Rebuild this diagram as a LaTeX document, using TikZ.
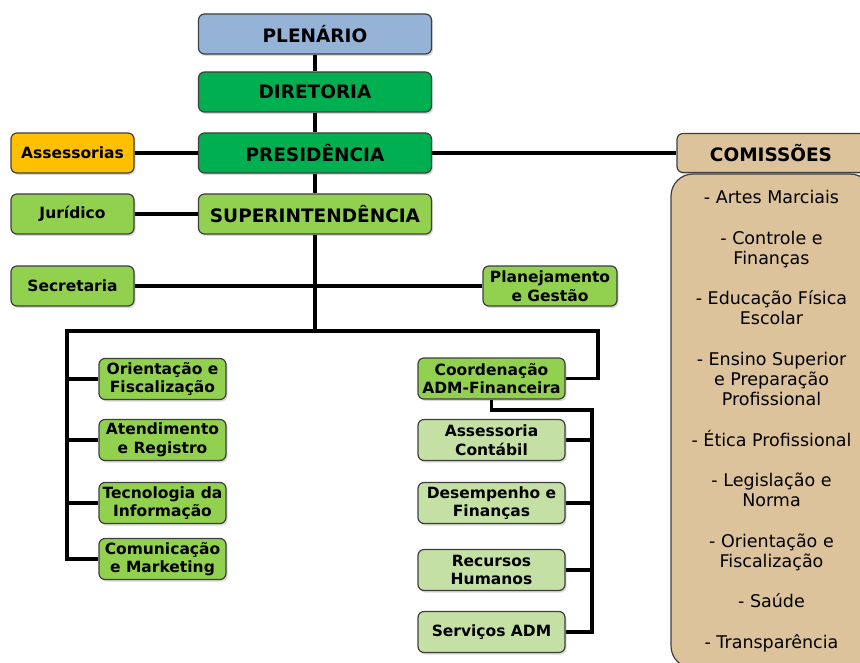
\documentclass[tikz,border=0pt]{standalone}
\usepackage{fontspec}
\setmainfont{DejaVu Sans}
\usetikzlibrary{shadows}
\definecolor{plenblue}{HTML}{95B3D7}
\definecolor{darkgreen}{HTML}{00B050}
\definecolor{midgreen}{HTML}{92D050}
\definecolor{lightgreen}{HTML}{C5E0A4}
\definecolor{amber}{HTML}{FFC000}
\definecolor{tan}{HTML}{DCC39C}
\definecolor{edgegray}{HTML}{3F3F3F}

\begin{document}
\begin{tikzpicture}[x=1pt,y=-1pt,
    box/.style={draw=edgegray,line width=1.2pt,rounded corners=6pt,align=center,inner sep=1pt,
      drop shadow={opacity=0.3,shadow xshift=1.5pt,shadow yshift=-2pt}},
    title/.style={box,minimum width=233pt,minimum height=40pt,font=\fontsize{18.5}{21}\selectfont\bfseries},
    unit/.style={box,minimum height=41pt,font=\fontsize{15.5}{18.5}\selectfont\bfseries},
    link/.style={line width=3.2pt}]

    \fill[white] (0,0) rectangle (860,663);
    \useasboundingbox (0,0) rectangle (860,663);

    % Top of the chart
    \node[title,fill=plenblue]   (plen) at (315,34)  {PLENÁRIO};
    \node[title,fill=darkgreen]  (dir)  at (315,92)  {DIRETORIA};
    \node[title,fill=darkgreen]  (pres) at (315,153) {PRESIDÊNCIA};
    \node[title,fill=midgreen]   (sup)  at (315,214) {SUPERINTENDÊNCIA};

    % Side units
    \node[unit,minimum width=123pt,minimum height=40pt,fill=amber]    (ass) at (72.5,153) {Assessorias};
    \node[unit,minimum width=123pt,minimum height=40pt,fill=midgreen] (jur) at (72.5,214) {Jurídico};
    \node[unit,minimum width=123pt,minimum height=40pt,fill=midgreen] (sec) at (72.5,286) {Secretaria};
    \node[unit,minimum width=134pt,minimum height=40pt,fill=midgreen] (plan) at (550,286) {Planejamento\\e Gestão};

    % Commissions
    \node[title,minimum width=188pt,minimum height=39pt,fill=tan] (com) at (771,153) {COMISSÕES};
    \node[box,rounded corners=22pt,fill=tan,minimum width=201pt,minimum height=494pt,
      font=\fontsize{17.5}{20.2}\selectfont] (comlist) at (771.5,421)
      {- Artes Marciais\\[20.2pt]
       - Controle e\\Finanças\\[20.2pt]
       - Educação Física\\Escolar\\[20.2pt]
       - Ensino Superior\\e Preparação\\Profissional\\[20.2pt]
       - Ética Profissional\\[20.2pt]
       - Legislação e\\Norma\\[20.2pt]
       - Orientação e\\Fiscalização\\[20.2pt]
       - Saúde\\[20.2pt]
       - Transparência};

    % Left branch
    \node[unit,minimum width=127pt,fill=midgreen] (ori) at (162.5,379) {Orientação e\\Fiscalização};
    \node[unit,minimum width=127pt,fill=midgreen] (ate) at (162.5,440) {Atendimento\\e Registro};
    \node[unit,minimum width=127pt,fill=midgreen] (tec) at (162.5,503) {Tecnologia da\\Informação};
    \node[unit,minimum width=127pt,fill=midgreen] (cmk) at (162.5,559) {Comunicação\\e Marketing};

    % Right branch
    \node[unit,minimum width=147pt,fill=midgreen]   (coo)  at (491.5,378.5) {Coordenação\\ADM-Financeira};
    \node[unit,minimum width=147pt,fill=lightgreen] (acon) at (491.5,440)   {Assessoria\\Contábil};
    \node[unit,minimum width=147pt,fill=lightgreen] (des)  at (491.5,503)   {Desempenho e\\Finanças};
    \node[unit,minimum width=147pt,fill=lightgreen] (rh)   at (491.5,570)   {Recursos\\Humanos};
    \node[unit,minimum width=147pt,fill=lightgreen] (sadm) at (491.5,632)   {Serviços ADM};

    \coordinate (bus)  at (315,331);
    \coordinate (busL) at (67,331);
    \coordinate (busR) at (598,331);
    \coordinate (admR) at (592,410);

    % Connectors
    \foreach \u/\v in {plen/dir,dir/pres,pres/sup} {
      \draw[link] (\u.south) -- (\v.north);
    }
    \draw[link] (sup.south) -- (bus);
    \draw[link] (ass.east) -- (pres.west);
    \draw[link] (pres.east) -- (com.west);
    \draw[link] (jur.east) -- (sup.west);
    \draw[link] (sec.east) -- (plan.west);
    \draw[link] (cmk.west) -| (busL) -- (busR) |- (coo.east);
    \foreach \n in {ori,ate,tec} {
      \draw[link] (busL |- \n.west) -- (\n.west);
    }
    \draw[link] (coo.south) |- (admR) |- (sadm.east);
    \foreach \n in {acon,des,rh} {
      \draw[link] (admR |- \n.east) -- (\n.east);
    }

  \end{tikzpicture}
\end{document}
